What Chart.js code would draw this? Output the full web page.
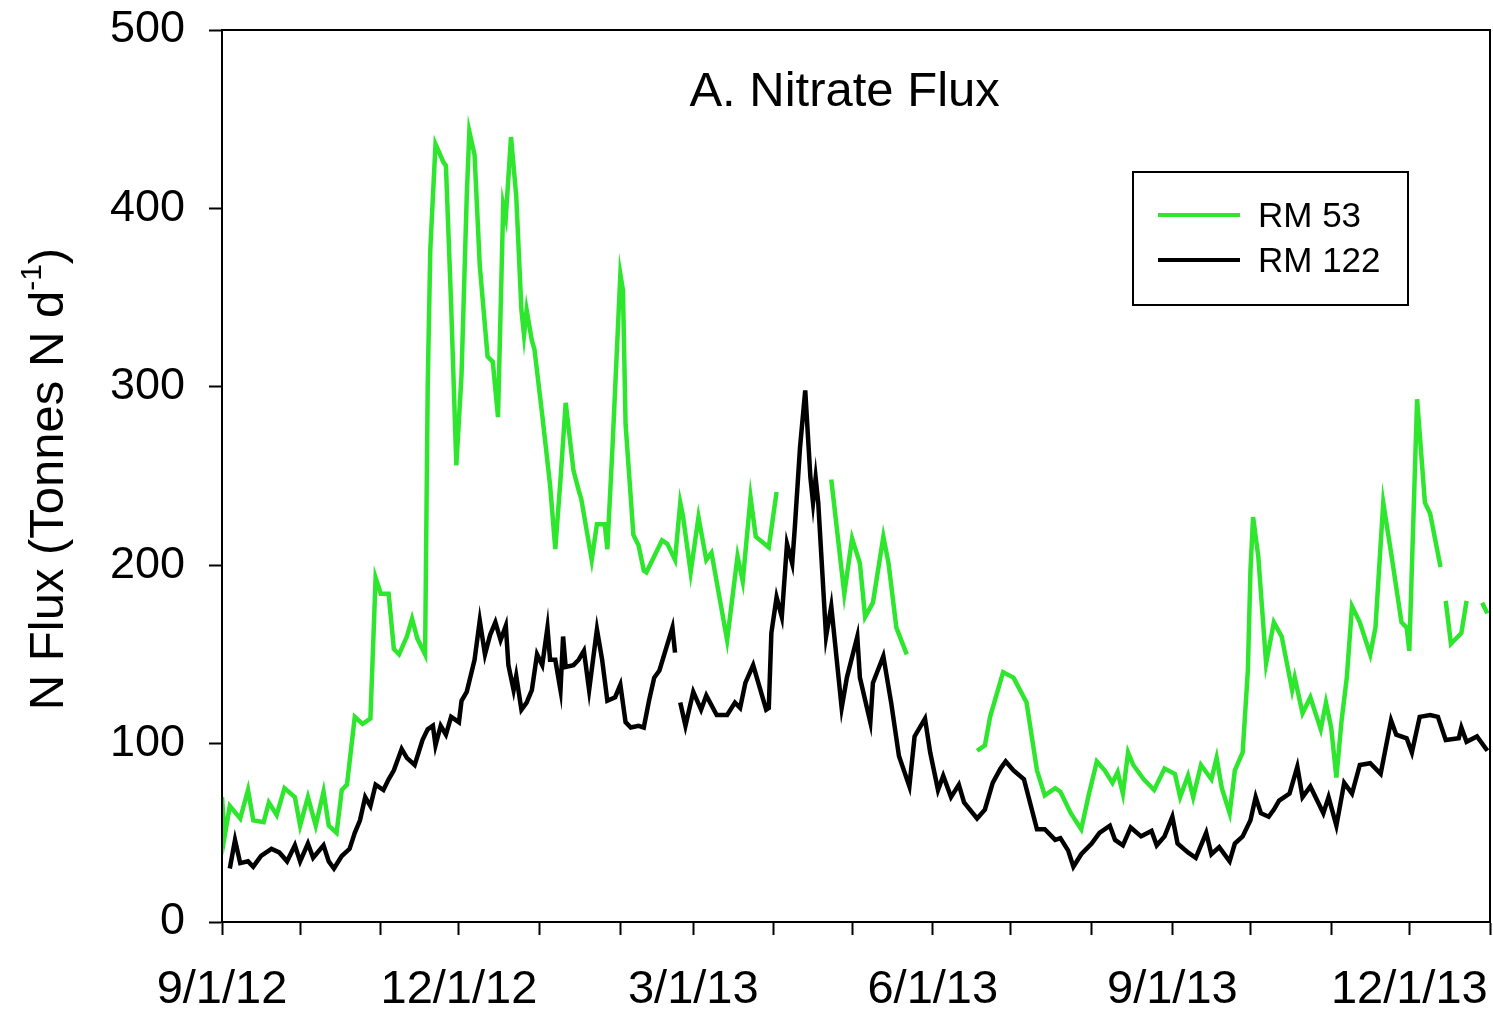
<!DOCTYPE html>
<html>
<head>
<meta charset="utf-8">
<script src="https://cdn.jsdelivr.net/npm/chart.js@4.4.1/dist/chart.umd.min.js"></script>
<style>
  html, body { margin: 0; padding: 0; background: #fff; }
  #wrap { width: 1493px; height: 1012px; }
</style>
</head>
<body>
<div id="wrap"><canvas id="c" width="1493" height="1012"></canvas></div>
<script>
// Days counted from 9/1/12; null marks a break in the record.
const rm53Days = [0,1,3,7,10,12,16,18,21,24,28,30,33,36,39,41,44,46,48,51,54,57,59,61,64,66,68,71,73,75,78,79,80,82,85,86,88,90,92,94,95,97,99,102,104,106,108,109,111,113,115,116,117,119,120,123,126,128,130,132,135,137,138,142,144,147,148,150,153,154,155,158,160,162,163,169,171,174,176,177,180,183,186,188,194,198,200,203,205,210,213,215,234,239,242,245,247,250,254,256,259,263,270,290,293,295,300,304,309,313,316,320,322,326,330,333,336,339,342,344,346,348,350,354,358,362,366,368,371,373,376,380,382,384,387,389,392,394,395,396,398,401,404,407,409,411,412,415,418,422,424,426,428,430,432,434,437,441,443,446,449,453,455,456,459,462,464,468,469,470,472,476,478,480,484,486];
const rm53Vals = [70,48,65,58,74,57,56,67,60,75,70,54,70,54,73,54,50,74,77,115,111,114,193,184,184,153,150,160,170,159,150,300,377,436,426,424,346,256,307,407,443,430,368,317,314,283,402,395,440,407,343,329,343,326,321,284,245,209,248,291,253,242,237,203,223,223,209,267,363,354,279,217,211,197,196,214,212,203,235,228,196,227,203,207,158,205,191,238,216,210,241,null,248,184,215,201,171,179,216,201,165,150,null,96,99,115,140,137,123,85,71,75,73,61,52,72,90,85,78,84,72,95,88,80,74,86,83,70,82,70,88,80,92,75,61,85,95,141,197,227,205,145,168,160,145,130,137,117,126,108,123,109,81,113,137,177,168,150,165,235,207,168,165,152,293,235,229,199,null,180,156,162,180,null,179,173];

const rm122Days = [3,5,7,10,12,15,19,22,25,28,30,33,35,39,41,43,46,49,51,53,55,57,59,62,64,66,69,71,74,77,79,81,82,84,86,88,91,92,94,97,99,101,103,105,107,109,110,112,113,115,117,119,121,123,125,126,128,130,131,132,135,137,139,141,144,146,148,151,153,155,157,160,162,164,166,168,173,174,175,176,178,181,184,186,190,194,197,199,201,204,209,210,211,213,215,217,219,220,222,224,226,227,228,229,232,234,238,240,244,245,249,250,254,257,260,264,266,270,272,275,277,280,283,285,290,293,296,299,301,304,308,313,316,320,322,325,327,330,334,337,341,343,346,349,353,357,359,362,365,367,371,374,378,380,383,387,389,392,395,397,399,402,404,406,410,413,415,418,421,423,425,428,431,434,437,441,445,449,451,455,457,460,464,467,470,475,476,478,482,486];
const rm122Vals = [30,46,33,34,31,37,41,39,34,43,34,44,36,43,34,30,37,41,50,57,70,65,77,74,80,85,97,92,88,102,108,110,99,110,105,115,112,124,129,147,169,150,161,168,158,166,144,130,138,119,123,130,150,144,165,147,147,130,160,143,144,147,152,130,164,147,124,126,133,112,109,110,109,124,137,141,165,151,null,123,110,129,119,127,116,116,123,120,134,144,119,120,162,182,171,212,201,221,266,298,249,235,249,235,160,177,120,137,160,137,112,134,149,123,93,76,104,114,95,74,82,70,77,67,58,63,78,86,90,85,80,52,52,46,47,40,31,38,44,50,54,46,43,53,48,51,43,48,59,44,39,36,50,38,42,34,44,48,57,70,61,59,63,68,72,87,70,76,67,61,70,54,78,72,88,89,83,113,105,103,95,115,116,115,102,103,109,101,104,96];

// Monthly ticks, labelled every third month
const monthTickDays = [0,30,61,91,122,153,181,212,242,273,303,334,365,395,426,456,487];
const monthTickLabels = ['9/1/12','','','12/1/12','','','3/1/13','','','6/1/13','','','9/1/13','','','12/1/13',''];

const seriesNames = ['RM 53', 'RM 122'];
const seriesColors = ['#2ee62e', '#000000'];
const chartTitle = 'A. Nitrate Flux';

const FONT = '"Liberation Sans", Arial, sans-serif';

function toPoints(days, vals) {
  return days.map((d, i) => ({ x: d, y: vals[i] }));
}

// Box around the plot, title, y-axis title and the inset legend
const decorations = {
  id: 'decorations',
  afterDraw(chart) {
    const { ctx, chartArea: a } = chart;
    ctx.save();
    ctx.strokeStyle = '#000';
    ctx.lineWidth = 2;
    ctx.strokeRect(a.left, a.top, a.right - a.left, a.bottom - a.top);

    // title
    ctx.fillStyle = '#000';
    ctx.font = '49px ' + FONT;
    ctx.textAlign = 'center';
    ctx.textBaseline = 'middle';
    ctx.fillText(chartTitle, a.left + (a.right - a.left) * 0.491, a.top + 62);

    // y-axis title with superscript
    ctx.save();
    ctx.translate(46, (a.top + a.bottom) / 2 + 3);
    ctx.rotate(-Math.PI / 2);
    const main = 'N Flux (Tonnes N d';
    const sup = '-1';
    const close = ')';
    ctx.font = '49px ' + FONT;
    const wMain = ctx.measureText(main).width;
    const wClose = ctx.measureText(close).width;
    ctx.font = '30px ' + FONT;
    const wSup = ctx.measureText(sup).width;
    const total = wMain + wSup + wClose;
    let x = -total / 2;
    ctx.textAlign = 'left';
    ctx.textBaseline = 'alphabetic';
    ctx.font = '49px ' + FONT;
    ctx.fillText(main, x, 17);
    x += wMain;
    ctx.font = '30px ' + FONT;
    ctx.fillText(sup, x, -5);
    x += wSup;
    ctx.font = '49px ' + FONT;
    ctx.fillText(close, x, 17);
    ctx.restore();

    // legend
    const lx = a.right - 357, ly = a.top + 142, lw = 275, lh = 133;
    ctx.fillStyle = '#fff';
    ctx.fillRect(lx, ly, lw, lh);
    ctx.strokeStyle = '#000';
    ctx.lineWidth = 2;
    ctx.strokeRect(lx, ly, lw, lh);
    ctx.font = '35px ' + FONT;
    ctx.textAlign = 'left';
    ctx.textBaseline = 'middle';
    seriesNames.forEach((name, i) => {
      const yy = ly + 43 + i * 45;
      ctx.strokeStyle = seriesColors[i];
      ctx.lineWidth = 4;
      ctx.beginPath();
      ctx.moveTo(lx + 25, yy);
      ctx.lineTo(lx + 107, yy);
      ctx.stroke();
      ctx.fillStyle = '#000';
      ctx.fillText(name, lx + 125, yy + 2);
    });
    ctx.restore();
  }
};

new Chart(document.getElementById('c'), {
  type: 'line',
  data: {
    datasets: [
      {
        label: seriesNames[1],
        data: toPoints(rm122Days, rm122Vals),
        borderColor: seriesColors[1],
        borderWidth: 4.5,
        pointRadius: 0,
        tension: 0,
        spanGaps: false,
        order: 0
      },
      {
        label: seriesNames[0],
        data: toPoints(rm53Days, rm53Vals),
        borderColor: seriesColors[0],
        borderWidth: 4.5,
        pointRadius: 0,
        tension: 0,
        spanGaps: false,
        order: 1
      }
    ]
  },
  options: {
    responsive: false,
    animation: false,
    devicePixelRatio: 1,
    layout: { padding: { top: 30, right: 3, left: 0, bottom: 0 } },
    plugins: {
      legend: { display: false },
      tooltip: { enabled: false },
      title: { display: false }
    },
    scales: {
      x: {
        type: 'linear',
        min: 0,
        max: 487,
        afterBuildTicks(scale) {
          scale.ticks = monthTickDays.map(v => ({ value: v }));
        },
        afterFit(scale) {
          scale.height = 90;
          scale.paddingLeft = 0;
          scale.paddingRight = 0;
        },
        ticks: {
          autoSkip: false,
          maxRotation: 0,
          minRotation: 0,
          color: '#000',
          font: { family: FONT, size: 47 },
          padding: 27,
          callback(value) {
            const i = monthTickDays.indexOf(value);
            return i >= 0 ? monthTickLabels[i] : '';
          }
        },
        grid: {
          drawOnChartArea: false,
          drawTicks: true,
          tickLength: 13,
          tickWidth: 2,
          tickColor: '#000'
        },
        border: { display: true, color: '#000', width: 2 }
      },
      y: {
        min: 0,
        max: 500,
        afterFit(scale) {
          scale.width = 222;
          scale.paddingTop = 0;
          scale.paddingBottom = 0;
        },
        ticks: {
          stepSize: 100,
          color: '#000',
          font: { family: FONT, size: 45 },
          padding: 24
        },
        grid: {
          drawOnChartArea: false,
          drawTicks: true,
          tickLength: 13,
          tickWidth: 2,
          tickColor: '#000'
        },
        border: { display: true, color: '#000', width: 2 }
      }
    }
  },
  plugins: [decorations]
});
</script>
</body>
</html>
